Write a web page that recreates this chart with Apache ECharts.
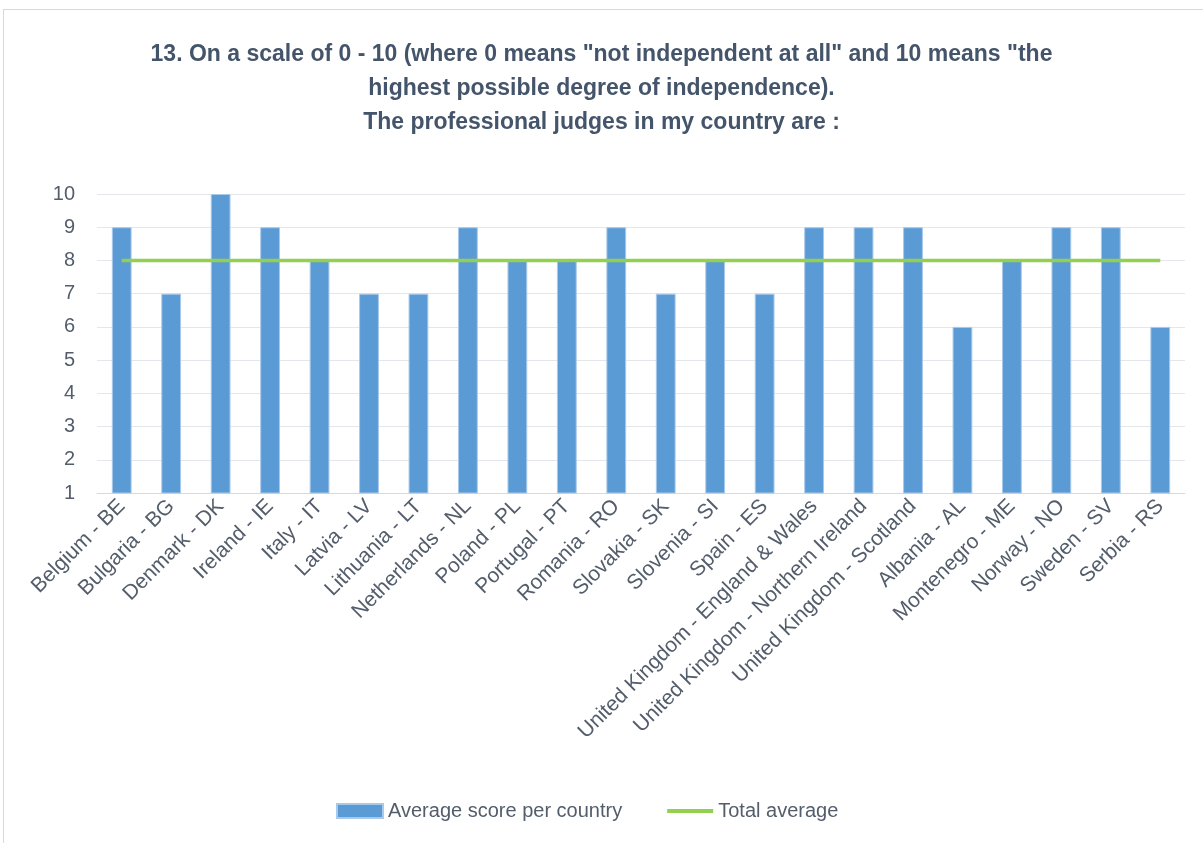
<!DOCTYPE html>
<html>
<head>
<meta charset="utf-8">
<script src="https://cdn.jsdelivr.net/npm/echarts@6/dist/echarts.min.js"></script>
<style>
  html, body { margin: 0; padding: 0; background: #fff; }
  #frame { position: absolute; left: 3px; top: 9px; width: 1210px; height: 850px; border: 1px solid #d9d9d9; box-sizing: border-box; }
  #main { width: 1203px; height: 843px; position: absolute; left: 0; top: 0; }
</style>
</head>
<body>
<div id="frame"></div>
<div id="main"></div>
<script>
var countries = ['Belgium - BE', 'Bulgaria - BG', 'Denmark - DK', 'Ireland - IE', 'Italy - IT', 'Latvia - LV',
  'Lithuania - LT', 'Netherlands - NL', 'Poland - PL', 'Portugal - PT', 'Romania - RO', 'Slovakia - SK',
  'Slovenia - SI', 'Spain - ES', 'United Kingdom - England & Wales', 'United Kingdom - Northern Ireland',
  'United Kingdom - Scotland', 'Albania - AL', 'Montenegro - ME', 'Norway - NO', 'Sweden - SV', 'Serbia - RS'];
var scores = [9, 7, 10, 9, 8, 7, 7, 9, 8, 8, 9, 7, 8, 7, 9, 9, 9, 6, 8, 9, 9, 6];
var totalAvg = [8, 8, 8, 8, 8, 8, 8, 8, 8, 8, 8, 8, 8, 8, 8, 8, 8, 8, 8, 8, 8, 8];

var textColor = '#535d6b';

var chart = echarts.init(document.getElementById('main'));
chart.setOption({
  animation: false,
  title: {
    text: '13. On a scale of 0 - 10 (where 0 means "not independent at all" and 10 means "the\nhighest possible degree of independence).\nThe professional judges in my country are :',
    left: 'center',
    top: 33,
    textStyle: {
      fontFamily: 'Liberation Sans, sans-serif',
      fontSize: 23,
      fontWeight: 'bold',
      color: '#44546a',
      lineHeight: 34,
      align: 'center'
    }
  },
  legend: {
    bottom: 17,
    left: 331,
    itemGap: 43,
    itemWidth: 46,
    itemHeight: 14,
    textStyle: { fontFamily: 'Liberation Sans, sans-serif', fontSize: 20, color: textColor },
    data: [
      { name: 'Average score per country', icon: 'rect' },
      { name: 'Total average', itemStyle: { opacity: 0 }, lineStyle: { width: 4 } }
    ]
  },
  grid: { left: 97, right: 18, top: 194, bottom: 350 },
  xAxis: {
    type: 'category',
    data: countries,
    axisTick: { show: false },
    axisLine: { lineStyle: { color: '#d9d9d9' } },
    axisLabel: {
      rotate: 45,
      interval: 0,
      fontFamily: 'Liberation Sans, sans-serif',
      fontSize: 21,
      color: textColor,
      margin: 10
    }
  },
  yAxis: {
    type: 'value',
    min: 1,
    max: 10,
    interval: 1,
    axisLine: { show: false },
    axisTick: { show: false },
    splitLine: { lineStyle: { color: '#e3e6ea' } },
    axisLabel: { fontFamily: 'Liberation Sans, sans-serif', fontSize: 20, color: textColor, margin: 22 }
  },
  series: [
    {
      name: 'Average score per country',
      type: 'bar',
      data: scores,
      barWidth: '40%',
      itemStyle: { color: '#5b9bd5', borderColor: '#a9c9ea', borderWidth: 1 }
    },
    {
      name: 'Total average',
      type: 'line',
      data: totalAvg,
      symbol: 'none',
      lineStyle: { color: '#92d050', width: 3.5 },
      itemStyle: { color: '#92d050' }
    }
  ]
});
</script>
</body>
</html>
